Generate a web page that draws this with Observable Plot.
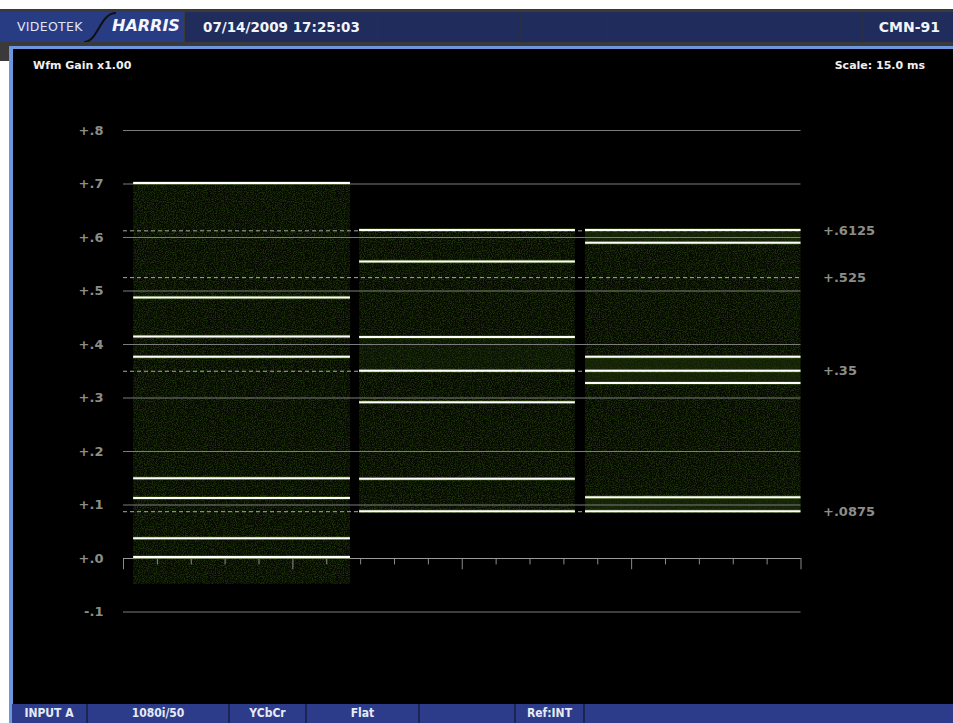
<!DOCTYPE html>
<html>
<head>
<meta charset="utf-8">
<script src="https://cdn.jsdelivr.net/npm/d3@7"></script>
<script src="https://cdn.jsdelivr.net/npm/@observablehq/plot@0.6"></script>
<style>
  body { margin: 0; background: #fff; }
  #wrap { position: relative; width: 953px; height: 723px; overflow: hidden; background: #fff; font-family: "DejaVu Sans", sans-serif; }
  .abs { position: absolute; }
  #frame { left: 0; top: 9px; width: 953px; height: 52px; background: #3a3a3a; }
  #hdrL { left: 0; top: 12px; width: 184px; height: 30px; background: #283c84; }
  #hdr { left: 185px; top: 12px; width: 768px; height: 30px; background: #1f2c5c; }
  .hdiv { top: 12px; width: 1px; height: 30px; background: #2a2f44; }
  #blue { left: 9px; top: 46px; width: 944px; height: 677px; background: #6c97df; }
  #panel { left: 13px; top: 49px; width: 940px; height: 655px; background: #000; }
  #foot { left: 12px; top: 704px; width: 941px; height: 19px; background: #2c3c8a; }
  .fdiv { top: 704px; width: 2px; height: 19px; background: #1b2555; }
  .ftxt { top: 704px; height: 19px; line-height: 19px; font-family: "DejaVu Sans Condensed", "DejaVu Sans", sans-serif; font-weight: bold; font-size: 12px; color: #e6eaf5; text-align: center; }
  .htxt { color: #f2f4fa; font-weight: bold; font-size: 13.5px; top: 12px; height: 30px; line-height: 30px; }
  .ptxt { color: #f0f0f0; font-weight: bold; font-size: 11px; top: 59px; }
</style>
</head>
<body>
<div id="wrap">
  <div id="frame" class="abs"></div>
  <div id="hdrL" class="abs"></div>
  <div id="hdr" class="abs"></div>
  <div class="abs hdiv" style="left:377px"></div>
  <div class="abs hdiv" style="left:520px"></div>
  <div class="abs hdiv" style="left:607px"></div>
  <div class="abs hdiv" style="left:862px"></div>
  <svg class="abs" style="left:0;top:12px" width="190" height="30">
    <path d="M84,30 C98,30 100,1 116,1" fill="none" stroke="#111" stroke-width="2"/>
  </svg>
  <div class="abs" style="left:17px;top:12px;height:30px;line-height:30px;font-size:12.5px;color:#dfe6f5;letter-spacing:0.3px;">VIDEOTEK</div>
  <div class="abs" style="left:112px;top:11px;height:30px;line-height:30px;font-size:16px;font-weight:bold;font-style:italic;color:#f4f6ff;">HARRIS</div>
  <div class="abs htxt" style="left:203px;">07/14/2009 17:25:03</div>
  <div class="abs htxt" style="right:13px;font-size:14px;">CMN-91</div>
  <div id="blue" class="abs"></div>
  <div id="panel" class="abs"></div>
  <div id="chart" class="abs" style="left:13px;top:49px;"></div>
  <div class="abs ptxt" style="left:33px;">Wfm Gain x1.00</div>
  <div class="abs ptxt" style="right:28px;">Scale: 15.0 ms</div>
  <div id="foot" class="abs"></div>
  <div class="abs fdiv" style="left:86px"></div>
  <div class="abs fdiv" style="left:228px"></div>
  <div class="abs fdiv" style="left:305px"></div>
  <div class="abs fdiv" style="left:418px"></div>
  <div class="abs fdiv" style="left:514px"></div>
  <div class="abs fdiv" style="left:583px"></div>
  <div class="abs ftxt" style="left:12px;width:74px;">INPUT A</div>
  <div class="abs ftxt" style="left:88px;width:140px;">1080i/50</div>
  <div class="abs ftxt" style="left:230px;width:75px;">YCbCr</div>
  <div class="abs ftxt" style="left:307px;width:111px;">Flat</div>
  <div class="abs ftxt" style="left:516px;width:67px;">Ref:INT</div>
</div>
<script>
// ---- data ----
const gridLevels = [-0.1, 0, 0.1, 0.2, 0.3, 0.4, 0.5, 0.6, 0.7, 0.8];
const gridLabels = ["-.1", "+.0", "+.1", "+.2", "+.3", "+.4", "+.5", "+.6", "+.7", "+.8"];
const refLevels = [0.6125, 0.525, 0.35, 0.0875];
const refLabels = ["+.6125", "+.525", "+.35", "+.0875"];
const xTicks = [0, 1, 2, 3, 4, 5, 6, 7, 8, 9, 10, 11, 12, 13, 14, 15, 16, 17, 18, 19, 20];
const xMajorTicks = [0, 5, 10, 15, 20];
const blockNames = ["block1", "block2", "block3"];
const blockStart = [0.3, 6.97, 13.64];
const blockEnd = [6.7, 13.34, 20.0];
const blockTop = [0.70, 0.615, 0.615];
const blockBottom = [-0.048, 0.088, 0.088];
const block1Levels = [0.702, 0.488, 0.415, 0.377, 0.150, 0.113, 0.038, 0.003];
const block2Levels = [0.614, 0.555, 0.414, 0.351, 0.292, 0.149, 0.0885];
const block3Levels = [0.614, 0.590, 0.377, 0.351, 0.328, 0.1146, 0.0885];
// denser (brighter) trace regions
const bandBlock = [1, 2, 2, 2];
const bandLow = [0.351, 0.590, 0.328, 0.0885];
const bandHigh = [0.414, 0.614, 0.377, 0.1146];

// ---- tables for the marks ----
const blocks = blockNames.map((name, i) => ({name, x1: blockStart[i], x2: blockEnd[i], y1: blockBottom[i], y2: blockTop[i]}));
const bands = bandBlock.map((b, i) => ({x1: blockStart[b], x2: blockEnd[b], y1: bandLow[i], y2: bandHigh[i], dense: b === 2}));
const levelSets = [block1Levels, block2Levels, block3Levels];
const traces = levelSets.flatMap((lv, i) => lv.map(v => ({v, x1: blockStart[i], x2: blockEnd[i]})));
const grid = gridLevels.map((v, i) => ({v, label: gridLabels[i]}));
const refs = refLevels.map((v, i) => ({v, label: refLabels[i]}));
const minorTicks = xTicks.filter(t => !xMajorTicks.includes(t));

const W = 940, H = 655;
const plot = Plot.plot({
  width: W,
  height: H,
  marginLeft: 110,
  marginRight: 152.5,
  marginTop: 81,
  marginBottom: 92.5,
  x: {domain: [0, 20], axis: null},
  y: {domain: [-0.1, 0.8], axis: null},
  style: {background: "#000", color: "#8b8e88", fontFamily: "DejaVu Sans", fontWeight: "bold", fontSize: "13px", overflow: "visible"},
  marks: [
    // signal fill (dark green trace density)
    Plot.rect(blocks, {x1: "x1", x2: "x2", y1: "y1", y2: "y2", fill: "#060a02"}),
    Plot.rect(blocks, {x1: "x1", x2: "x2", y1: "y1", y2: "y2", fill: "url(#grainPat)"}),
    Plot.rect(bands, {x1: "x1", x2: "x2", y1: "y1", y2: "y2", fill: "#1c2e0a", fillOpacity: d => d.dense ? 0.6 : 0.25}),
    // graticule
    Plot.ruleY(grid, {y: "v", x1: 0, x2: 20, stroke: "#7c7c7c", strokeWidth: 1}),
    Plot.ruleY(refs, {y: "v", x1: 0, x2: 20, stroke: "#a8a8a8", strokeWidth: 1, strokeDasharray: "4,3"}),
    Plot.ruleX(minorTicks, {x: d => d, y1: 0, y2: -0.012, stroke: "#8a8a8a"}),
    Plot.ruleX(xMajorTicks, {x: d => d, y1: 0, y2: -0.021, stroke: "#8a8a8a"}),
    Plot.ruleY([0], {x1: 0, x2: 20, stroke: "#9a9a9a", strokeWidth: 1.2}),
    // trace lines
    Plot.ruleY(traces, {y: "v", x1: "x1", x2: "x2", stroke: "#4f7a12", strokeWidth: 3.5, strokeOpacity: 0.5}),
    Plot.ruleY(traces, {y: "v", x1: "x1", x2: "x2", stroke: "#ffffff", strokeWidth: 2}),
    // labels
    Plot.text(grid, {x: 0, y: "v", text: "label", dx: -20, textAnchor: "end", fill: "#8b8e88"}),
    Plot.text(refs, {x: 20, y: "v", text: "label", dx: 22, textAnchor: "start", fill: "#8b8e88"})
  ]
});

const NS = "http://www.w3.org/2000/svg";
const defs = document.createElementNS(NS, "defs");
const filter = document.createElementNS(NS, "filter");
filter.setAttribute("id", "grain");
filter.setAttribute("x", "0"); filter.setAttribute("y", "0");
filter.setAttribute("width", "100%"); filter.setAttribute("height", "100%");
filter.setAttribute("filterUnits", "objectBoundingBox");
filter.setAttribute("color-interpolation-filters", "sRGB");
const turb = document.createElementNS(NS, "feTurbulence");
turb.setAttribute("type", "fractalNoise");
turb.setAttribute("baseFrequency", "0.9");
turb.setAttribute("numOctaves", "2");
turb.setAttribute("seed", "7");
turb.setAttribute("result", "n");
const cm = document.createElementNS(NS, "feColorMatrix");
cm.setAttribute("in", "n");
cm.setAttribute("type", "matrix");
cm.setAttribute("values", "0 0 0 0 0.11  0 0 0 0 0.19  0 0 0 0 0.03  0 0 0 4 -1.75");
cm.setAttribute("result", "g");
const comp = document.createElementNS(NS, "feComposite");
comp.setAttribute("in", "g");
comp.setAttribute("in2", "SourceGraphic");
comp.setAttribute("operator", "in");
filter.append(turb, cm, comp);
const pat = document.createElementNS(NS, "pattern");
pat.setAttribute("id", "grainPat");
pat.setAttribute("patternUnits", "userSpaceOnUse");
pat.setAttribute("width", "128"); pat.setAttribute("height", "128");
const pr = document.createElementNS(NS, "rect");
pr.setAttribute("width", "128"); pr.setAttribute("height", "128");
pr.setAttribute("fill", "#000");
pr.setAttribute("filter", "url(#grain)");
pat.append(pr);
defs.append(filter, pat);
plot.insertBefore(defs, plot.firstChild);
document.getElementById("chart").appendChild(plot);
</script>
</body>
</html>
